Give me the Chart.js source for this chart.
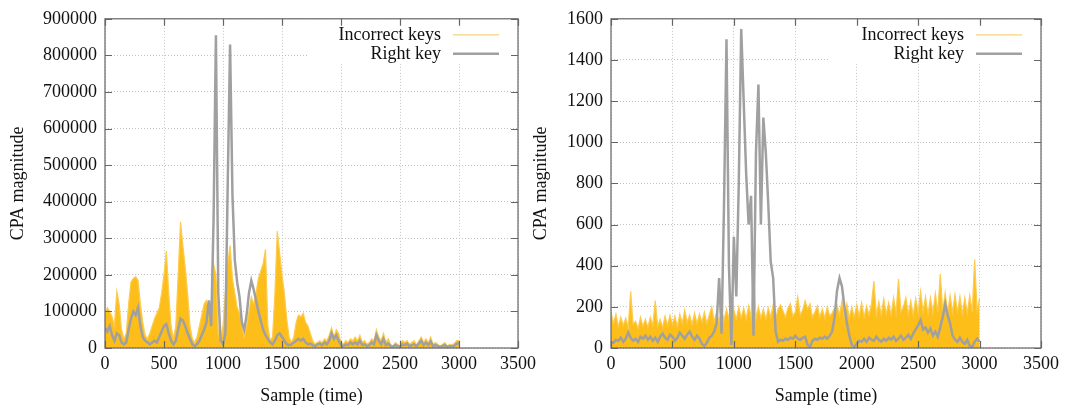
<!DOCTYPE html>
<html>
<head>
<meta charset="utf-8">
<script src="https://cdn.jsdelivr.net/npm/chart.js@4"></script>
<style>
  html, body { margin: 0; padding: 0; background: #fff; }
  #wrap { position: relative; width: 1067px; height: 409px; overflow: hidden; }
  canvas { position: absolute; top: 0; }
</style>
</head>
<body>
<div id="wrap">
  <canvas id="left-chart" width="545" height="409" style="left:0"></canvas>
  <canvas id="right-chart" width="542" height="409" style="left:525px"></canvas>
</div>
<script>
// sample index (time), every 20th sample
const samples = [
  0, 20, 40, 60, 80, 100, 120, 140, 160, 180,
  200, 220, 240, 260, 280, 300, 320, 340, 360, 380,
  400, 420, 440, 460, 480, 500, 520, 540, 560, 580,
  600, 620, 640, 660, 680, 700, 720, 740, 760, 780,
  800, 820, 840, 860, 880, 900, 920, 940, 960, 980,
  1000, 1020, 1040, 1060, 1080, 1100, 1120, 1140, 1160, 1180,
  1200, 1220, 1240, 1260, 1280, 1300, 1320, 1340, 1360, 1380,
  1400, 1420, 1440, 1460, 1480, 1500, 1520, 1540, 1560, 1580,
  1600, 1620, 1640, 1660, 1680, 1700, 1720, 1740, 1760, 1780,
  1800, 1820, 1840, 1860, 1880, 1900, 1920, 1940, 1960, 1980,
  2000, 2020, 2040, 2060, 2080, 2100, 2120, 2140, 2160, 2180,
  2200, 2220, 2240, 2260, 2280, 2300, 2320, 2340, 2360, 2380,
  2400, 2420, 2440, 2460, 2480, 2500, 2520, 2540, 2560, 2580,
  2600, 2620, 2640, 2660, 2680, 2700, 2720, 2740, 2760, 2780,
  2800, 2820, 2840, 2860, 2880, 2900, 2920, 2940, 2960, 2980,
  3000
];

// left panel, CPA magnitude in thousands
const leftIncorrectK = [
  95, 110, 100, 85, 60, 155, 120, 50, 25, 40,
  120, 180, 190, 195, 185, 120, 70, 35, 25, 40,
  60, 80, 95, 110, 150, 200, 265, 150, 60, 25,
  60, 200, 345, 280, 220, 150, 60, 25, 15, 30,
  60, 90, 120, 130, 100, 60, 230, 200, 40, 15,
  60, 150, 230, 280, 190, 150, 110, 95, 60, 30,
  60, 100, 140, 120, 150, 190, 210, 230, 270, 60,
  20, 30, 150, 320, 260, 200, 150, 80, 30, 15,
  30, 70, 90, 85, 95, 70, 60, 40, 20, 10,
  15, 20, 15, 25, 20, 35, 55, 30, 50, 40,
  15, 10, 20, 15, 25, 20, 30, 20, 35, 15,
  20, 10, 15, 25, 20, 50, 30, 20, 40, 15,
  25, 10, 5, 15, 10, 5, 20, 15, 20, 10,
  15, 20, 8, 20, 30, 15, 25, 15, 30, 10,
  15, 10, 5, 10, 15, 5, 10, 8, 12, 20,
  20
];
const leftRightK = [
  55, 45, 60, 35, 20, 40, 35, 15, 10, 15,
  50, 80, 100, 90, 110, 60, 30, 20, 15, 10,
  15, 20, 15, 30, 45, 60, 65, 40, 20, 10,
  20, 50, 80, 75, 60, 40, 25, 10, 5, 10,
  20, 35, 50, 70, 130, 60, 350, 855, 150, 20,
  10, 40, 450, 830, 420, 240, 180, 140, 70, 50,
  90, 150, 184, 160, 130, 100, 75, 50, 35, 25,
  15, 10, 20, 35, 40, 30, 20, 10, 8, 10,
  15, 20, 25, 20, 25, 15, 10, 12, 8, 5,
  10, 12, 8, 15, 10, 20, 40, 25, 35, 20,
  8, 5, 10, 8, 15, 10, 15, 10, 20, 8,
  10, 5, 8, 15, 10, 35, 20, 10, 25, 8,
  12, 5, 3, 8, 5, 3, 10, 8, 12, 5,
  8, 10, 5, 12, 20, 8, 15, 8, 18, 5,
  8, 5, 3, 5, 8, 3, 5, 5, 6, 12,
  12
];

// right panel, CPA magnitude
const rightIncorrect = [
  175, 120, 165, 105, 150, 110, 145, 100, 275, 115,
  130, 95, 150, 105, 140, 100, 150, 110, 230, 105,
  140, 100, 155, 110, 160, 115, 155, 105, 165, 120,
  185, 125, 160, 115, 170, 120, 165, 125, 175, 120,
  160, 200, 130, 175, 125, 185, 135, 190, 140, 255,
  185, 140, 200, 145, 195, 140, 205, 150, 390, 145,
  200, 145, 190, 140, 195, 150, 210, 145, 190, 210,
  180, 150, 195, 215, 155, 175, 250, 160, 185, 230,
  190, 215, 150, 175, 205, 150, 190, 145, 200, 155,
  170, 195, 210, 160, 230, 150, 215, 145, 200, 150,
  210, 155, 220, 150, 205, 160, 215, 325, 160, 225,
  160, 240, 165, 220, 160, 245, 170, 335, 175, 200,
  245, 165, 230, 160, 240, 170, 275, 175, 250, 165,
  245, 170, 265, 175, 360, 180, 270, 170, 255, 175,
  260, 175, 250, 165, 245, 170, 255, 175, 430, 180,
  240
];
const rightRight = [
  30, 25, 40, 35, 50, 30, 45, 75, 50, 35,
  45, 30, 55, 45, 60, 40, 55, 35, 50, 30,
  55, 70, 50, 40, 65, 55, 35, 50, 75, 60,
  45, 65, 80, 55, 40, 60, 45, 20, 10, 25,
  50, 60, 80, 120, 340, 70, 700, 1500, 400, 15,
  540, 250, 800, 1550, 1200, 850, 600, 740, 60, 950,
  1280, 600, 1120, 950, 700, 420, 340, 80, 30, 40,
  35, 45, 40, 50, 45, 60, 45, 40, 50, 55,
  15, 5, 35, 45, 40, 50, 45, 55, 45, 60,
  80, 150, 280, 340, 300, 200, 120, 60, 15, 5,
  20, 35, 30, 45, 30, 50, 40, 35, 55, 40,
  30, 45, 35, 50, 40, 55, 35, 45, 60, 40,
  50, 65, 45, 70, 90, 110, 135, 90, 100, 75,
  95, 60, 80, 55, 100, 150, 215, 160, 120, 60,
  40, 30, 50, 30, 20, 40, 10, 5, 30, 45,
  30
];

const FONT = "'Liberation Serif', 'Times New Roman', serif";
Chart.defaults.font.family = FONT;
Chart.defaults.font.size = 18;
Chart.defaults.color = '#111';

const YELLOW = '#FDBE1A';
const GRAY = '#A0A0A0';

// gnuplot-like frame: border, inward ticks on all sides, key in top right
const gnuplotFrame = {
  id: 'gnuplotFrame',
  beforeDatasetsDraw(chart, args, o) {
    const { ctx, chartArea: a } = chart;
    ctx.save();
    ctx.fillStyle = '#fff';
    ctx.fillRect(a.right - o.boxWidth, a.top, o.boxWidth, o.boxHeight);
    ctx.restore();
  },
  afterDraw(chart, args, o) {
    const { ctx, chartArea: a, scales } = chart;
    ctx.save();
    ctx.strokeStyle = '#666';
    ctx.lineWidth = 1.2;
    ctx.strokeRect(a.left, a.top, a.right - a.left, a.bottom - a.top);
    ctx.beginPath();
    scales.x.ticks.forEach((t) => {
      const px = Math.round(scales.x.getPixelForValue(t.value)) + 0.5;
      ctx.moveTo(px, a.bottom); ctx.lineTo(px, a.bottom - 7);
      ctx.moveTo(px, a.top); ctx.lineTo(px, a.top + 7);
    });
    scales.y.ticks.forEach((t) => {
      const py = Math.round(scales.y.getPixelForValue(t.value)) + 0.5;
      ctx.moveTo(a.left, py); ctx.lineTo(a.left + 7, py);
      ctx.moveTo(a.right, py); ctx.lineTo(a.right - 7, py);
    });
    ctx.stroke();

    ctx.font = '18px ' + FONT;
    ctx.textAlign = 'right';
    ctx.textBaseline = 'middle';
    o.items.forEach((item, i) => {
      const y = a.top + 16 + i * 19;
      ctx.fillStyle = '#111';
      ctx.fillText(item.label, a.right - 77, y);
      ctx.strokeStyle = item.color;
      ctx.lineWidth = item.width;
      ctx.beginPath();
      ctx.moveTo(a.right - 65, y);
      ctx.lineTo(a.right - 19, y);
      ctx.stroke();
    });
    ctx.restore();
  },
};

function makeChart(id, incorrect, right, cfg) {
  const ctx = document.getElementById(id).getContext('2d');
  return new Chart(ctx, {
    type: 'line',
    data: {
      datasets: [
        {
          label: 'Right key',
          data: samples.map((s, i) => ({ x: s, y: right[i] * cfg.unit })),
          borderColor: GRAY,
          borderWidth: 2.5,
          pointRadius: 0,
          fill: false,
          order: 0,
        },
        {
          label: 'Incorrect keys',
          data: samples.map((s, i) => ({ x: s, y: incorrect[i] * cfg.unit })),
          borderColor: '#FCCB50',
          backgroundColor: YELLOW,
          borderWidth: 1.2,
          pointRadius: 0,
          fill: 'origin',
          order: 1,
        },
      ],
    },
    options: {
      responsive: false,
      animation: false,
      layout: { padding: { top: 15, right: cfg.padRight, bottom: 0, left: 0 } },
      plugins: {
        legend: { display: false },
        tooltip: { enabled: false },
        gnuplotFrame: {
          boxWidth: 211,
          boxHeight: 45,
          items: [
            { label: 'Incorrect keys', color: '#FAD27A', width: 1.2 },
            { label: 'Right key', color: GRAY, width: 2.5 },
          ],
        },
      },
      scales: {
        x: {
          type: 'linear',
          min: 0,
          max: 3500,
          afterFit: (scale) => { scale.height = 61; },
          ticks: { stepSize: 500, padding: 5, maxRotation: 0, autoSkip: false, color: '#111', callback: (v) => String(v) },
          grid: { color: '#c2c2c2', lineWidth: 1, drawTicks: false },
          border: { display: false, dash: [1, 2] },
          title: { display: true, text: 'Sample (time)', color: '#111', padding: { top: 0, bottom: 2 } },
        },
        y: {
          min: 0,
          max: cfg.yMax,
          afterFit: (scale) => { scale.width = cfg.yWidth; },
          ticks: { stepSize: cfg.yStep, padding: 8, color: '#111', callback: (v) => String(v) },
          grid: { color: '#c2c2c2', lineWidth: 1, drawTicks: false },
          border: { display: false, dash: [1, 2] },
          title: { display: true, text: 'CPA magnitude', color: '#111', padding: { top: cfg.titlePad, bottom: 0 } },
        },
      },
    },
    plugins: [gnuplotFrame],
  });
}

makeChart('left-chart', leftIncorrectK, leftRightK, {
  unit: 1000, yMax: 900000, yStep: 100000, yWidth: 105, padRight: 27, titlePad: 7,
});
makeChart('right-chart', rightIncorrect, rightRight, {
  unit: 1, yMax: 1600, yStep: 200, yWidth: 86, padRight: 26, titlePad: 5,
});
</script>
</body>
</html>
